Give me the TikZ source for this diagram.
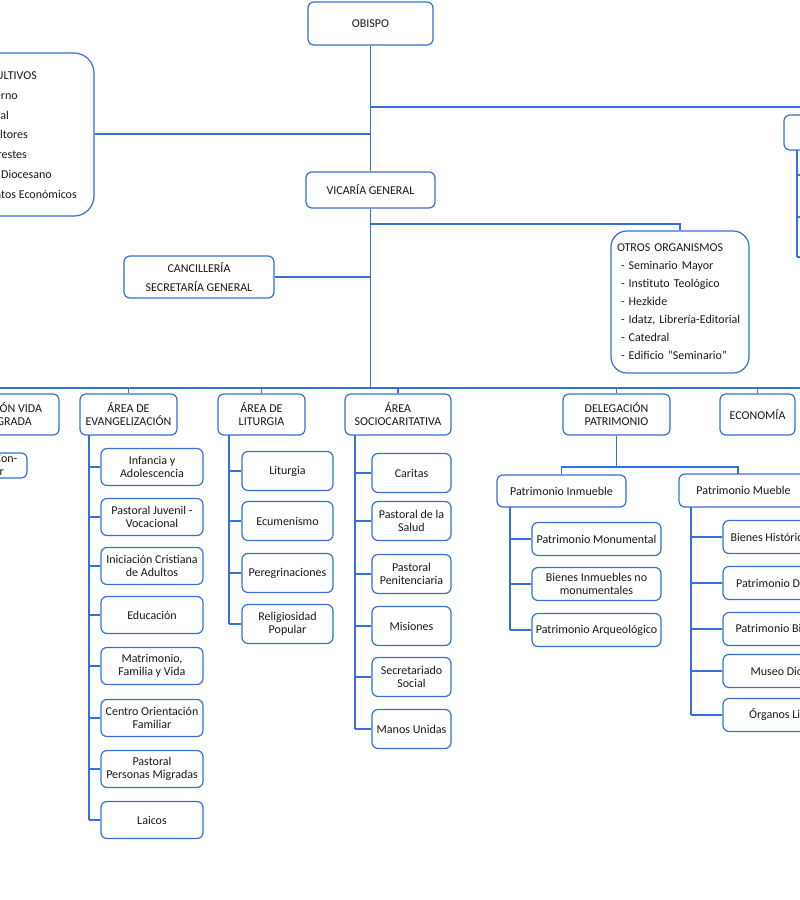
\documentclass[tikz,border=0pt]{standalone}
\usepackage{fontspec}
\setmainfont{Carlito}
\definecolor{bl}{RGB}{52,112,216}
\begin{document}
\begin{tikzpicture}[x=1pt,y=-1pt,
  every node/.style={font=\fontsize{12}{13}\selectfont, text=black!90},
  bx/.style={draw=bl, line width=1.2pt, rounded corners=6pt, align=center, inner sep=0pt, fill=white},
  big/.style={bx, rounded corners=20pt},
  ln/.style={draw=bl, line width=1.2pt},
  lt/.style={anchor=base east, inner sep=0pt}]
\useasboundingbox (0,0) rectangle (800,900);
\clip (0,0) rectangle (800,900);
% top
\node[bx, minimum width=125, minimum height=43] (obispo) at (370.5,23.5) {OBISPO};
\node[bx, minimum width=129, minimum height=36] (vic) at (370.5,190) {VICARÍA GENERAL};
\coordinate (bus) at (370.5,388);
\draw[ln] (obispo.south) -- (vic.north);
\draw[ln] (vic.south) -- (bus);
% left organs box
\node[big, minimum width=220, minimum height=163] (org) at (-16,134.5) {};
\node[lt] (o1) at (37,79) {ÓRGANOS CONSULTIVOS};
\node[lt] (o2) at (18,99) {Consejo de Gobierno};
\node[lt] (o3) at (9,119) {Consejo Episcopal};
\node[lt] (o4) at (28,138) {Colegio de Consultores};
\node[lt] (o5) at (27,158) {Consejo de Arciprestes};
\node[lt] (o6) at (52,178) {Consejo Pastoral Diocesano};
\node[lt] (o7) at (77,198) {Consejo de Asuntos Económicos};
\coordinate (jl) at (370.5,134);
\draw[ln] (org.east |- jl) -- (jl);
% right top
\coordinate (jr) at (370.5,107);
\coordinate (jr2) at (810,107);
\draw[ln] (jr) -- (jr2);
\node[bx, minimum width=80, minimum height=35] (rt) at (824,132.5) {};
\coordinate (rv1) at (797,150);
\coordinate (rv2) at (797,257);
\draw[ln] (rv1) -- (rv2);
\draw[ln] (797,175) -- (805,175) (797,217) -- (805,217) (rv2) -- (805,257);
% cancilleria
\node[bx, minimum width=150, minimum height=42] (canc) at (199,277) {CANCILLERÍA\\[6pt]SECRETARÍA GENERAL};
\draw[ln] (canc.east) -- (370.5,277);
% otros
\node[big, rounded corners=16pt, minimum width=138, minimum height=142, text width=126pt, inner xsep=6pt, align=left] (otros) at (680,302)
 {OTROS ORGANISMOS\\[5pt]
 \ - Seminario Mayor\\[5pt]
 \ - Instituto Teológico\\[5pt]
 \ - Hezkide\\[5pt]
 \ - Idatz, Librería-Editorial\\[5pt]
 \ - Catedral\\[5pt]
 \ - Edificio "Seminario"};
\draw[ln] (370.5,224) -| (otros.north);
% bus
\draw[ln] (-50,388) -- (850,388);
\node[bx, minimum width=124, minimum height=41] (vida) at (-3,414.5) {DELEGACIÓN VIDA\\CONSAGRADA};
\node[bx, minimum width=97, minimum height=41] (evan) at (128.5,414.5) {ÁREA DE\\EVANGELIZACIÓN};
\node[bx, minimum width=87, minimum height=41] (lit) at (261.5,414.5) {ÁREA DE\\LITURGIA};
\node[bx, minimum width=106, minimum height=41] (soc) at (398,414.5) {ÁREA\\SOCIOCARITATIVA};
\node[bx, minimum width=107, minimum height=41] (pat) at (616.5,414.5) {DELEGACIÓN\\PATRIMONIO};
\node[bx, minimum width=75, minimum height=41] (eco) at (757.5,414.5) {ECONOMÍA};
\foreach \n in {vida,evan,lit,soc,pat,eco} \draw[ln] (\n.north) -- (\n.north |- bus);
\node[bx, minimum width=60, minimum height=25, text width=50pt, align=center] (confer) at (-3,465.5) {\hspace*{18pt}Confer};
% evangelizacion
\coordinate (ev) at (89,435);
\foreach \t [count=\i] in {{Infancia y\\Adolescencia},{Pastoral Juvenil -\\Vocacional},{Iniciación Cristiana\\de Adultos},{Educación},{Matrimonio,\\Familia y Vida},{Centro Orientación\\Familiar},{Pastoral\\Personas Migradas},{Laicos}}{
  \pgfmathsetmacro\yy{{0,467,517,566,615,666,718,769,820}[\i]}
  \node[bx, minimum width=102, minimum height=37] (e\i) at (152,\yy) {\t};
  \draw[ln] (e\i.west) -- (ev |- e\i.west);
}
\draw[ln] (ev) -- (ev |- e8.west);
% liturgia
\coordinate (lv) at (229,435);
\foreach \t [count=\i] in {{Liturgia},{Ecumenismo},{Peregrinaciones},{Religiosidad\\Popular}}{
  \pgfmathsetmacro\yy{{0,471,521,573,624}[\i]}
  \node[bx, minimum width=91, minimum height=39] (l\i) at (287.5,\yy) {\t};
  \draw[ln] (l\i.west) -- (lv |- l\i.west);
}
\draw[ln] (lv) -- (lv |- l4.west);
% sociocaritativa
\coordinate (sv) at (355,435);
\foreach \t [count=\i] in {{Caritas},{Pastoral de la\\Salud},{Pastoral\\Penitenciaria},{Misiones},{Secretariado\\Social},{Manos Unidas}}{
  \pgfmathsetmacro\yy{{0,473,521,574,626,677,729}[\i]}
  \node[bx, minimum width=79, minimum height=39] (s\i) at (411.5,\yy) {\t};
  \draw[ln] (s\i.west) -- (sv |- s\i.west);
}
\draw[ln] (sv) -- (sv |- s6.west);
% patrimonio
\node[bx, minimum width=129, minimum height=32] (inm) at (561.5,491) {Patrimonio Inmueble};
\node[bx, minimum width=129, minimum height=33] (mue) at (743.5,490.5) {Patrimonio Mueble};
\coordinate (pj) at (616.5,467);
\draw[ln] (pat.south) -- (pj);
\draw[ln] (inm.north) |- (pj) -| (738,474);
\coordinate (iv) at (510,507);
\foreach \t [count=\i] in {{Patrimonio Monumental},{Bienes Inmuebles no\\monumentales},{Patrimonio Arqueológico}}{
  \pgfmathsetmacro\yy{{0,539,584,630}[\i]}
  \node[bx, minimum width=129, minimum height=33] (pi\i) at (596.5,\yy) {\t};
  \draw[ln] (pi\i.west) -- (iv |- pi\i.west);
}
\draw[ln] (iv) -- (iv |- pi3.west);
\coordinate (mv) at (691,507);
\foreach \t [count=\i] in {{Bienes Histórico-Artísticos},{Patrimonio Documental},{Patrimonio Bibliográfico},{Museo Diocesano},{Órganos Litúrgicos}}{
  \pgfmathsetmacro\yy{{0,537,583,629,671,715}[\i]}
  \node[bx, minimum width=142, minimum height=33] (pm\i) at (794,\yy) {\t};
  \draw[ln] (pm\i.west) -- (mv |- pm\i.west);
}
\draw[ln] (mv) -- (mv |- pm5.west);
\end{tikzpicture}
\end{document}
